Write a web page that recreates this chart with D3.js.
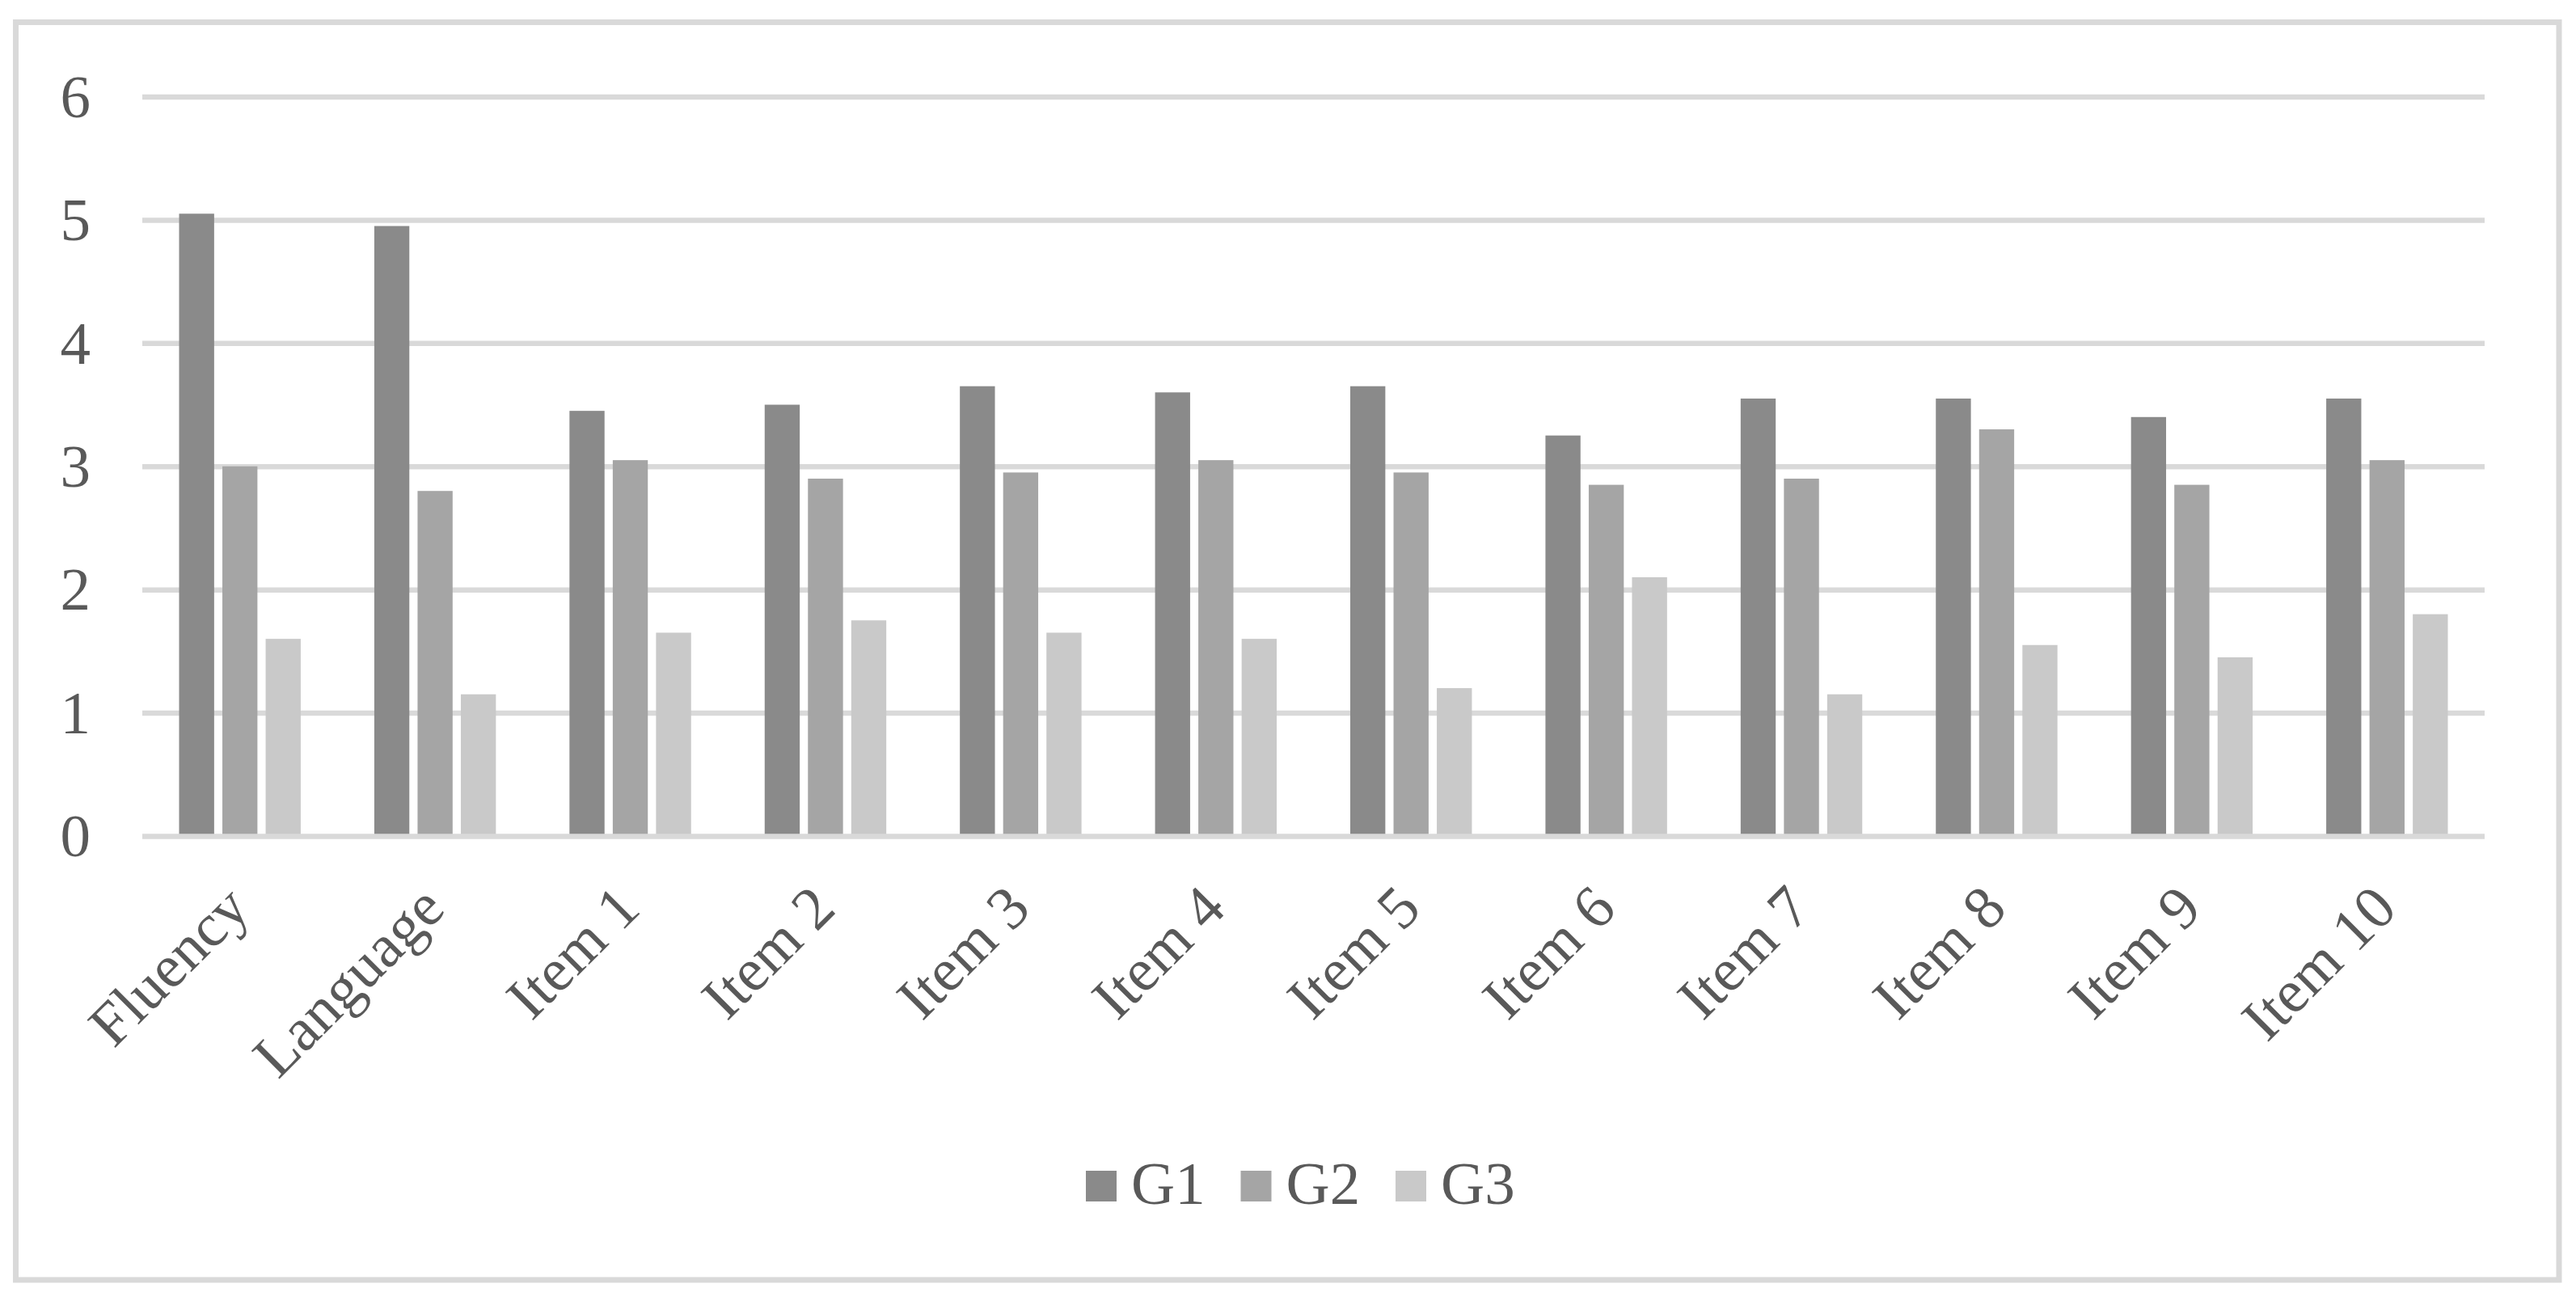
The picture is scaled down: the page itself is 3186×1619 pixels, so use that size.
<!DOCTYPE html>
<html>
<head>
<meta charset="utf-8">
<script src="https://cdn.jsdelivr.net/npm/d3@7"></script>
<style>
    html, body { margin: 0; padding: 0; background: #fff; }
    svg { display: block; }
</style>
</head>
<body>
<div id="chart"></div>
<script>
const categories = ["Fluency", "Language", "Item 1", "Item 2", "Item 3", "Item 4",
    "Item 5", "Item 6", "Item 7", "Item 8", "Item 9", "Item 10"];
const series = ["G1", "G2", "G3"];
const g1 = [5.05, 4.95, 3.45, 3.5, 3.65, 3.6, 3.65, 3.25, 3.55, 3.55, 3.4, 3.55];
const g2 = [3.0, 2.8, 3.05, 2.9, 2.95, 3.05, 2.95, 2.85, 2.9, 3.3, 2.85, 3.05];
const g3 = [1.6, 1.15, 1.65, 1.75, 1.65, 1.6, 1.2, 2.1, 1.15, 1.55, 1.45, 1.8];
const yTicks = [0, 1, 2, 3, 4, 5, 6];

const values = {G1: g1, G2: g2, G3: g3};
const colors = {G1: "#8a8a8a", G2: "#a5a5a5", G3: "#c9c9c9"};

const width = 3186, height = 1619;
const plot = {left: 176, right: 3073, top: 119.5, bottom: 1034};
const font = "'Liberation Serif', 'Times New Roman', serif";
const textColor = "#595959";
const gridColor = "#d9d9d9";

const svg = d3.select("#chart").append("svg")
    .attr("width", width)
    .attr("height", height);

// chart border
svg.append("rect")
    .attr("x", 19.5).attr("y", 27.5)
    .attr("width", 3145.5).attr("height", 1555.5)
    .attr("fill", "#fff")
    .attr("stroke", gridColor)
    .attr("stroke-width", 7);

const x = d3.scaleBand()
    .domain(categories)
    .range([plot.left, plot.right]);

const xInner = d3.scaleBand()
    .domain(series)
    .range([0, x.bandwidth()])
    .paddingInner(0.19)
    .paddingOuter(0.85);

const y = d3.scaleLinear()
    .domain([0, 6])
    .range([plot.bottom, plot.top]);

// gridlines (the zero one is drawn after the bars)
const yAxis = d3.axisLeft(y)
    .tickValues(yTicks)
    .tickSize(-(plot.right - plot.left))
    .tickPadding(64)
    .tickFormat(d3.format("d"));

const axisG = svg.append("g")
    .attr("transform", `translate(${plot.left},0)`)
    .call(yAxis);
axisG.select(".domain").remove();
axisG.selectAll(".tick line")
    .attr("stroke", gridColor)
    .attr("stroke-width", 6.5)
    .filter(d => d === 0).remove();
axisG.selectAll(".tick text")
    .attr("fill", textColor)
    .attr("font-family", font)
    .attr("font-size", 75)
    .attr("dy", "0.33em");

// bars
const groups = svg.append("g").selectAll("g")
    .data(categories)
    .join("g")
    .attr("transform", d => `translate(${x(d)},0)`);

groups.selectAll("rect")
    .data((c, i) => series.map(s => ({s: s, v: values[s][i]})))
    .join("rect")
    .attr("x", d => xInner(d.s))
    .attr("width", xInner.bandwidth())
    .attr("y", d => y(d.v))
    .attr("height", d => y(0) - y(d.v))
    .attr("fill", d => colors[d.s]);

// zero line
svg.append("line")
    .attr("x1", plot.left).attr("x2", plot.right)
    .attr("y1", y(0) + 0.5).attr("y2", y(0) + 0.5)
    .attr("stroke", gridColor)
    .attr("stroke-width", 6.5);

// category labels, rotated
svg.append("g").selectAll("text")
    .data(categories)
    .join("text")
    .attr("transform", d => `translate(${x(d) + x.bandwidth() / 2 + 15},${y(0) + 93}) rotate(-45)`)
    .attr("text-anchor", "end")
    .attr("fill", textColor)
    .attr("font-family", font)
    .attr("font-size", 75)
    .text(d => d);

// legend
const legendX = d3.scalePoint()
    .domain(series)
    .range([1343, 1726]);

const legend = svg.append("g").selectAll("g")
    .data(series)
    .join("g")
    .attr("transform", d => `translate(${legendX(d)},1448)`);

legend.append("rect")
    .attr("width", 38).attr("height", 38)
    .attr("fill", d => colors[d]);

legend.append("text")
    .attr("x", 56)
    .attr("y", 41)
    .attr("fill", textColor)
    .attr("font-family", font)
    .attr("font-size", 75)
    .text(d => d);
</script>
</body>
</html>
